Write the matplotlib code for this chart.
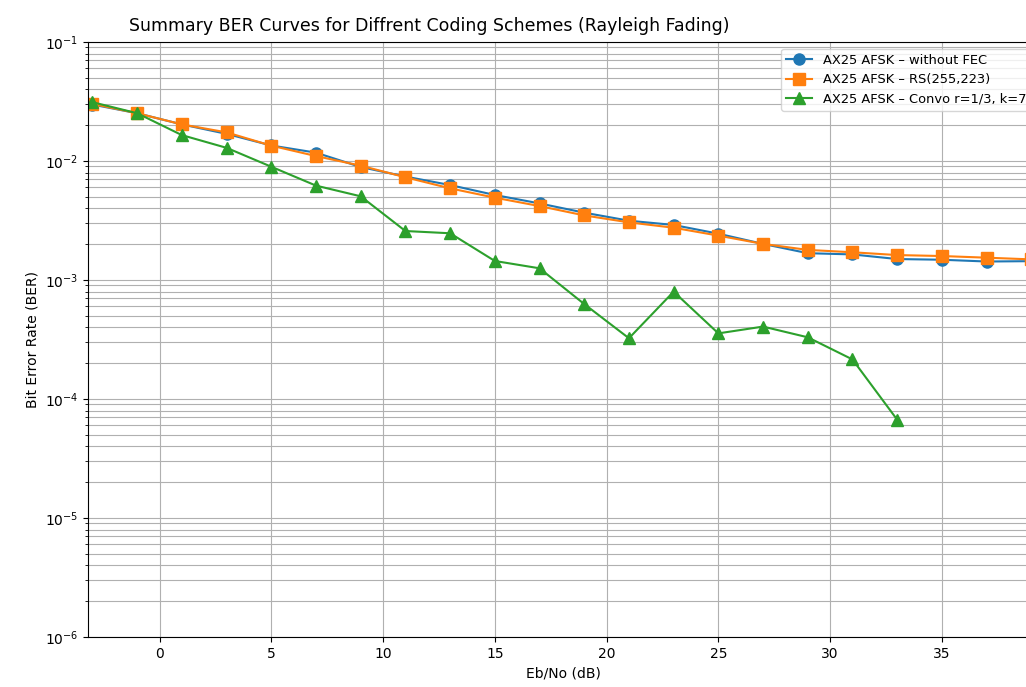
import matplotlib
matplotlib.use("Agg")
import matplotlib.pyplot as plt

ebno = [-3, -1, 1, 3, 5, 7, 9, 11, 13, 15, 17, 19, 21, 23, 25, 27, 29, 31, 33, 35, 37, 39]
ber_uncoded = [0.0298, 0.0252, 0.0203, 0.0169, 0.0135, 0.01175, 0.0089, 0.0074, 0.00628,
               0.00518, 0.0044, 0.00368, 0.00315, 0.0029, 0.00245, 0.00201, 0.00168,
               0.00164, 0.0015, 0.00148, 0.00143, 0.00144]
ber_rs = [0.0302, 0.0252, 0.0203, 0.0174, 0.01346, 0.0110, 0.00914, 0.0073, 0.00589,
          0.00492, 0.00418, 0.00349, 0.00305, 0.00275, 0.00236, 0.00201, 0.00179,
          0.00171, 0.00162, 0.00159, 0.00154, 0.00149]
ebno_conv = [-3, -1, 1, 3, 5, 7, 9, 11, 13, 15, 17, 19, 21, 23, 25, 27, 29, 31, 33]
ber_conv = [0.0312, 0.0252, 0.0165, 0.0129, 0.00895, 0.00621, 0.00505, 0.00258, 0.00247,
            0.001445, 0.001254, 0.000628, 0.000324, 0.000798, 0.000356, 0.000406,
            0.00033, 0.000215, 6.7e-05]

labels = ["AX25 AFSK – without FEC", "AX25 AFSK – RS(255,223)", "AX25 AFSK – Convo r=1/3, k=7"]
title = "Summary BER Curves for Diffrent Coding Schemes (Rayleigh Fading)"

W, H = 1026, 687
fig = plt.figure(figsize=(W / 100, H / 100), dpi=100)
# axes run a little past the right edge of the picture, as in the reference
left, right, top, bottom = 88, 1038, 42, 637
ax = fig.add_axes([left / W, 1 - bottom / H, (right - left) / W, (bottom - top) / H])

ax.semilogy(ebno, ber_uncoded, marker="o", markersize=8, label=labels[0])
ax.semilogy(ebno, ber_rs, marker="s", markersize=8, label=labels[1])
ax.semilogy(ebno_conv, ber_conv, marker="^", markersize=8, label=labels[2])

ax.set_xlim(-3.2, 39.3)
ax.set_ylim(1e-6, 1e-1)
ax.grid(True, which="both")
ax.set_xlabel("Eb/No (dB)")
ax.set_ylabel("Bit Error Rate (BER)")
ax.legend(loc="upper right", fontsize=9.4)

fig.text(429 / W, 1 - 26 / H, title, ha="center", va="center", fontsize=12.5)

fig.savefig("out.png", dpi=100)
